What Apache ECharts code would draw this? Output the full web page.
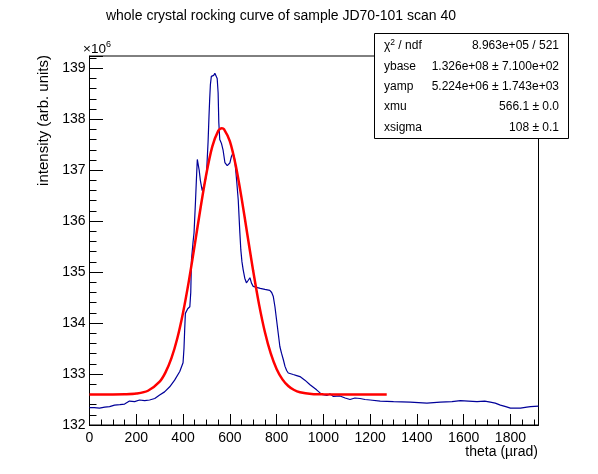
<!DOCTYPE html>
<html lang="en">
<head>
    <meta charset="UTF-8">
    <title>whole crystal rocking curve</title>
    <script src="https://cdn.jsdelivr.net/npm/echarts@6/dist/echarts.min.js"></script>
    <style>
        html, body { margin: 0; padding: 0; background: #fff; }
        #chart { width: 598px; height: 474px; }
    </style>
</head>
<body>
<div id="chart"></div>
<script>
    // scan data, intensity in units of 1e6
    let histTheta = [0, 20, 43, 65, 86, 107, 130, 150, 171, 193, 214, 236, 257, 279, 300, 321, 343, 364, 386, 400,
        404, 407, 410, 420, 429, 433, 436, 443, 447, 453, 457, 461, 465, 469, 474, 482, 493, 500, 507, 511,
        514, 517, 521, 531, 536, 541, 546, 550, 553, 557, 564, 571, 579, 589, 600, 607, 614, 621, 629, 636,
        643, 647, 652, 657, 664, 671, 679, 686, 693, 700, 707, 730, 750, 771, 779, 786, 793, 800, 807, 814,
        821, 829, 836, 843, 850, 871, 886, 900, 921, 943, 957, 971, 993, 1000, 1015, 1029, 1043, 1071, 1093, 1114,
        1135, 1157, 1178, 1200, 1243, 1300, 1371, 1443, 1500, 1550, 1586, 1620, 1657, 1690, 1714, 1735, 1757, 1780, 1800, 1843,
        1870, 1886, 1920];
    let histIntensity = [132.34, 132.34, 132.33, 132.35, 132.36, 132.39, 132.40, 132.41, 132.47, 132.46, 132.49, 132.48, 132.49, 132.52, 132.59, 132.65, 132.75, 132.88, 133.05, 133.22,
        133.50, 133.87, 134.19, 134.28, 134.32, 134.60, 135.24, 135.60, 135.77, 136.36, 136.80, 137.21, 137.20, 137.00, 136.80, 136.60, 136.75, 136.90, 137.55, 138.06,
        138.40, 138.68, 138.84, 138.86, 138.90, 138.88, 138.80, 138.52, 137.93, 137.60, 137.53, 137.40, 137.15, 137.09, 137.14, 137.27, 137.34, 137.21, 136.81, 136.42,
        135.77, 135.44, 135.20, 135.05, 134.88, 134.79, 134.84, 134.89, 134.78, 134.72, 134.70, 134.68, 134.66, 134.64, 134.60, 134.52, 134.32, 134.06, 133.80, 133.54,
        133.41, 133.28, 133.15, 133.07, 133.02, 132.99, 132.97, 132.95, 132.88, 132.79, 132.74, 132.69, 132.60, 132.61, 132.58, 132.61, 132.56, 132.57, 132.53, 132.50,
        132.53, 132.52, 132.50, 132.49, 132.47, 132.46, 132.45, 132.43, 132.45, 132.46, 132.48, 132.47, 132.46, 132.47, 132.45, 132.43, 132.39, 132.36, 132.33, 132.33,
        132.35, 132.36, 132.37];

    // gaussian fit curve as drawn
    let fitTheta = [0, 50, 100, 150, 200, 250, 300, 325, 350, 375, 400, 425, 450, 475, 500, 525, 550, 566, 575, 600,
        625, 650, 675, 700, 725, 750, 775, 800, 825, 850, 875, 900, 950, 1000, 1100, 1200, 1271];
    let fitIntensity = [132.60, 132.60, 132.60, 132.603, 132.617, 132.672, 132.852, 133.033, 133.307, 133.693, 134.204, 134.828, 135.534, 136.263, 136.934, 137.461, 137.766, 137.824, 137.806, 137.571,
        137.100, 136.461, 135.739, 135.020, 134.367, 133.824, 133.403, 133.099, 132.895, 132.765, 132.687, 132.644, 132.609, 132.601, 132.60, 132.60, 132.60];

    let statNames = ['ybase', 'yamp', 'xmu', 'xsigma'];
    let statValues = ['1.326e+08 \u00b1 7.100e+02', '5.224e+06 \u00b1 1.743e+03', '566.1 \u00b1 0.0', '108 \u00b1 0.1'];

    let font = 'Liberation Sans';
    let chart = echarts.init(document.getElementById('chart'));

    let histData = histTheta.map((t, i) => [t, histIntensity[i]]);
    let fitData = fitTheta.map((t, i) => [t, fitIntensity[i]]);

    let statGraphics = [{
        type: 'rect',
        shape: { x: 374.5, y: 33.5, width: 194, height: 105 },
        style: { fill: '#fff', stroke: '#000', lineWidth: 1 },
        z: 100
    }, {
        type: 'text', x: 384, y: 46, z: 101,
        style: {
            text: '{a|\u03c7}{s|2}{a| / ndf}',
            textVerticalAlign: 'middle',
            rich: {
                a: { fontSize: 12, fontFamily: font, fill: '#000' },
                s: { fontSize: 8.5, fontFamily: font, fill: '#000', padding: [0, 0, 7, 0] }
            }
        }
    }, {
        type: 'text', x: 559, y: 46, z: 101,
        style: { text: '8.963e+05 / 521', fontSize: 12, fontFamily: font, fill: '#000', textAlign: 'right', textVerticalAlign: 'middle' }
    }];
    statNames.forEach((n, i) => {
        let yy = 66.5 + i * 20.3;
        statGraphics.push({
            type: 'text', x: 384, y: yy, z: 101,
            style: { text: n, fontSize: 12, fontFamily: font, fill: '#000', textVerticalAlign: 'middle' }
        });
        statGraphics.push({
            type: 'text', x: 559, y: yy, z: 101,
            style: { text: statValues[i], fontSize: 12, fontFamily: font, fill: '#000', textAlign: 'right', textVerticalAlign: 'middle' }
        });
    });

    let option = {
        animation: false,
        backgroundColor: '#fff',
        grid: {
            left: 89.5, right: 59.5, top: 56, bottom: 49,
            show: true, borderColor: '#000', borderWidth: 1, backgroundColor: 'transparent'
        },
        xAxis: [{
            type: 'value', min: 0, max: 1920, interval: 200, position: 'bottom',
            axisLine: { lineStyle: { color: '#000', width: 1 } },
            axisTick: { inside: true, length: 11, lineStyle: { color: '#000' } },
            axisLabel: {
                color: '#000', fontSize: 14, fontFamily: font, margin: 6,
                formatter: v => (v % 200 === 0 ? String(v) : '')
            },
            splitLine: { show: false }
        }, {
            type: 'value', min: 0, max: 1920, interval: 50, position: 'bottom',
            axisLine: { show: false },
            axisTick: { inside: true, length: 5.5, lineStyle: { color: '#000' } },
            axisLabel: { show: false },
            splitLine: { show: false }
        }],
        yAxis: [{
            type: 'value', min: 132, max: 139.24, interval: 1,
            axisLine: { lineStyle: { color: '#000', width: 1 } },
            axisTick: { inside: true, length: 13.5, lineStyle: { color: '#000' } },
            axisLabel: {
                color: '#000', fontSize: 14, fontFamily: font, margin: 4,
                formatter: v => (Math.abs(v - Math.round(v)) < 1e-6 ? String(Math.round(v)) : '')
            },
            splitLine: { show: false }
        }, {
            type: 'value', min: 132, max: 139.24, interval: 0.2, position: 'left',
            axisLine: { show: false },
            axisTick: { inside: true, length: 7, lineStyle: { color: '#000' } },
            axisLabel: { show: false },
            splitLine: { show: false }
        }],
        series: [{
            type: 'line',
            data: histData,
            showSymbol: false,
            lineStyle: { color: '#000099', width: 1.2 },
            z: 3
        }, {
            type: 'line',
            data: fitData,
            smooth: 0.3,
            showSymbol: false,
            lineStyle: { color: '#ff0000', width: 2.5 },
            z: 4
        }],
        graphic: [{
            type: 'text', x: 281, y: 16,
            style: { text: 'whole crystal rocking curve of sample JD70-101 scan 40', fontSize: 14, fontFamily: font, fill: '#000', textAlign: 'center', textVerticalAlign: 'middle' }
        }, {
            type: 'text', x: 538, y: 452,
            style: { text: 'theta (\u00b5rad)', fontSize: 14, fontFamily: font, fill: '#000', textAlign: 'right', textVerticalAlign: 'middle' }
        }, {
            type: 'text', x: 44, y: 55, rotation: Math.PI / 2,
            style: { text: 'intensity (arb. units)', fontSize: 15, fontFamily: font, fill: '#000', textAlign: 'right', textVerticalAlign: 'middle' }
        }, {
            type: 'text', x: 83, y: 49,
            style: {
                text: '{a|\u00d710}{s|6}',
                textVerticalAlign: 'middle',
                rich: {
                    a: { fontSize: 13.5, fontFamily: font, fill: '#000' },
                    s: { fontSize: 9, fontFamily: font, fill: '#000', padding: [0, 0, 8, 0] }
                }
            }
        }].concat(statGraphics)
    };
    chart.setOption(option);
</script>
</body>
</html>
